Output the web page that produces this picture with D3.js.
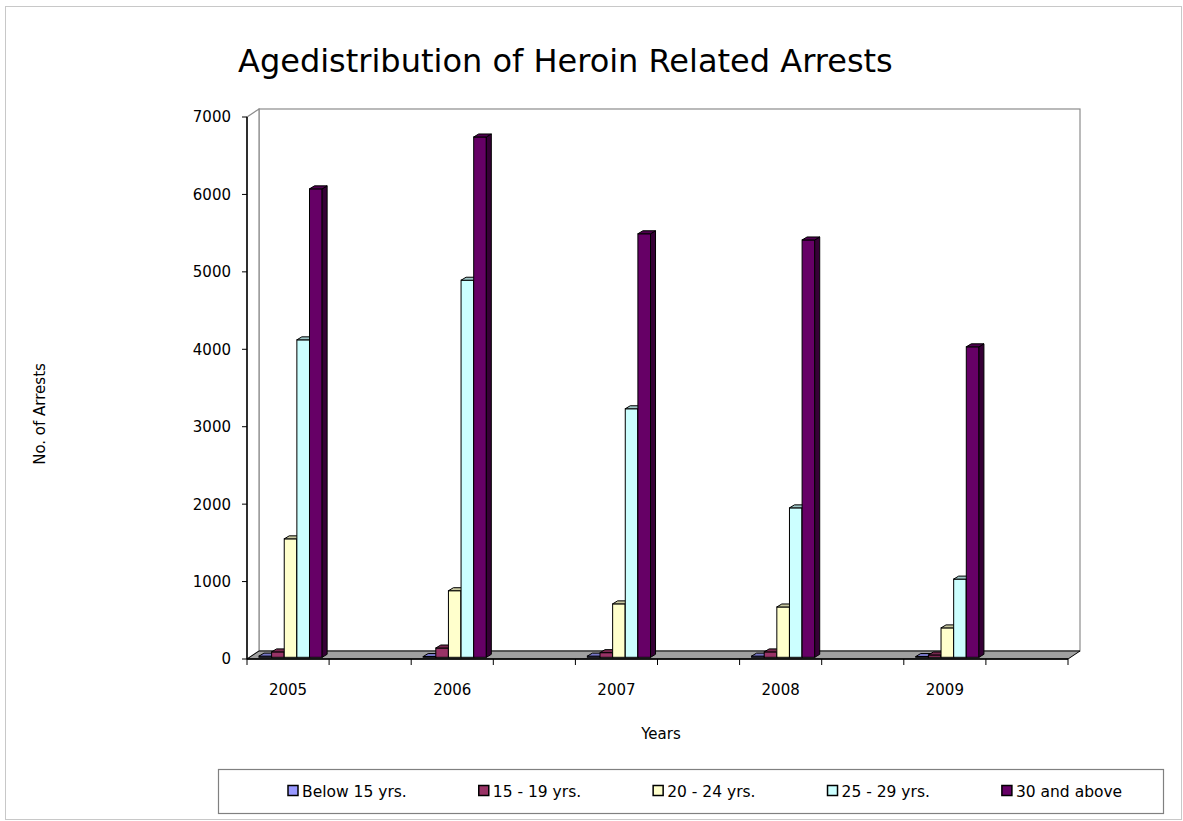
<!DOCTYPE html>
<html>
<head>
<meta charset="utf-8">
<script src="https://cdn.jsdelivr.net/npm/d3@7"></script>
<style>
  html, body { margin: 0; padding: 0; background: #fff; }
  svg { display: block; }
  text { font-family: "DejaVu Sans", Verdana, sans-serif; fill: #000; }
</style>
</head>
<body>
<svg id="chart" width="1183" height="821"></svg>
<script>
// ---- data ----
const categories = ["2005", "2006", "2007", "2008", "2009"];
const seriesNames = ["Below 15 yrs.", "15 - 19 yrs.", "20 - 24 yrs.", "25 - 29 yrs.", "30 and above"];
const below15 = [15, 10, 15, 15, 10];
const age15to19 = [70, 120, 60, 70, 30];
const age20to24 = [1530, 860, 690, 650, 380];
const age25to29 = [4100, 4870, 3210, 1930, 1010];
const age30plus = [6050, 6720, 5470, 5390, 4010];
const yTickValues = [0, 1000, 2000, 3000, 4000, 5000, 6000, 7000];
const seriesColors = ["#9999FF", "#993366", "#FFFFCC", "#CCFFFF", "#660066"];

const seriesValues = [below15, age15to19, age20to24, age25to29, age30plus];

// ---- layout ----
const svg = d3.select("#chart");
const W = 1183, H = 821;
const plot = { left: 247, right: 1068, bottom: 659, top: 117 };
const depth = { x: 12, y: -8 };          // floor / wall depth offset
const barFront = { x: 2.5, y: -1.7 };    // bar front plane offset
const barDepth = { x: 5, y: -3 };        // bar thickness offset

// each year occupies one slot followed by an empty slot
const slots = categories.flatMap(c => [c, c + "_blank"]);
const x = d3.scaleBand().domain(slots).range([plot.left, plot.right]).padding(0);
const xs = d3.scaleBand().domain(seriesNames).range([0, x.bandwidth()])
  .paddingInner(0).paddingOuter(0.75);
const y = d3.scaleLinear().domain([0, 7000]).range([plot.bottom, plot.top]);

// background + outer border
svg.append("rect").attr("x", 0).attr("y", 0).attr("width", W).attr("height", H).attr("fill", "#fff");
svg.append("rect").attr("x", 5.5).attr("y", 6.5).attr("width", W - 7).attr("height", H - 8)
  .attr("fill", "none").attr("stroke", "#c8c8c8").attr("stroke-width", 1);

// walls
const bx0 = plot.left + depth.x, by0 = plot.top + depth.y;
const bx1 = plot.right + depth.x, byB = plot.bottom + depth.y;
svg.append("rect").attr("x", bx0).attr("y", by0).attr("width", bx1 - bx0).attr("height", byB - by0)
  .attr("fill", "#fff").attr("stroke", "#8c8c8c").attr("stroke-width", 1.2);
svg.append("polygon")
  .attr("points", [[plot.left, plot.top], [bx0, by0], [bx0, byB], [plot.left, plot.bottom]].join(" "))
  .attr("fill", "#fff").attr("stroke", "#8c8c8c").attr("stroke-width", 1.2);

// floor
svg.append("polygon")
  .attr("points", [[plot.left, plot.bottom], [plot.right, plot.bottom], [bx1, byB], [bx0, byB]].join(" "))
  .attr("fill", "#a0a0a0").attr("stroke", "#000").attr("stroke-width", 1);

// bars
const barsG = svg.append("g");
categories.forEach((cat, ci) => {
  seriesNames.forEach((s, si) => {
    const v = seriesValues[si][ci];
    const col = d3.color(seriesColors[si]);
    const w = xs.bandwidth();
    const bx = x(cat) + xs(s) + barFront.x;
    const yTop = y(v) + barFront.y;
    const yBase = y(0) + barFront.y;
    const g = barsG.append("g");
    // front
    g.append("rect").attr("x", bx).attr("y", yTop).attr("width", w).attr("height", yBase - yTop)
      .attr("fill", col.formatHex()).attr("stroke", "#000").attr("stroke-width", 1);
    // side
    g.append("polygon")
      .attr("points", [[bx + w, yTop], [bx + w + barDepth.x, yTop + barDepth.y],
        [bx + w + barDepth.x, yBase + barDepth.y], [bx + w, yBase]].join(" "))
      .attr("fill", col.darker(1.8).formatHex()).attr("stroke", "#000").attr("stroke-width", 1);
    // top
    g.append("polygon")
      .attr("points", [[bx, yTop], [bx + w, yTop], [bx + w + barDepth.x, yTop + barDepth.y],
        [bx + barDepth.x, yTop + barDepth.y]].join(" "))
      .attr("fill", col.darker(0.7).formatHex()).attr("stroke", "#000").attr("stroke-width", 1);
  });
});

// y axis
svg.append("line").attr("x1", plot.left).attr("x2", plot.left).attr("y1", plot.top).attr("y2", plot.bottom)
  .attr("stroke", "#000").attr("stroke-width", 1.5);
const yAxisG = svg.append("g");
yTickValues.forEach(t => {
  yAxisG.append("line").attr("x1", plot.left - 5).attr("x2", plot.left).attr("y1", y(t)).attr("y2", y(t))
    .attr("stroke", "#000").attr("stroke-width", 1);
  yAxisG.append("text").attr("x", plot.left - 16).attr("y", y(t)).attr("dy", "0.36em")
    .attr("text-anchor", "end").style("font-size", "15px").text(t);
});

// x axis
svg.append("line").attr("x1", plot.left).attr("x2", plot.right).attr("y1", plot.bottom).attr("y2", plot.bottom)
  .attr("stroke", "#000").attr("stroke-width", 1.5);
const xTickPos = slots.map(s => x(s)).concat([plot.right]);
xTickPos.forEach(px => {
  svg.append("line").attr("x1", px).attr("x2", px).attr("y1", plot.bottom).attr("y2", plot.bottom + 6)
    .attr("stroke", "#000").attr("stroke-width", 1);
});
categories.forEach(cat => {
  svg.append("text").attr("x", x(cat) + x.bandwidth() / 2).attr("y", 690).attr("dy", "0.36em")
    .attr("text-anchor", "middle").style("font-size", "15px").text(cat);
});

// axis titles
svg.append("text").attr("x", 661).attr("y", 734).attr("dy", "0.36em").attr("text-anchor", "middle")
  .style("font-size", "15px").text("Years");
svg.append("text").attr("transform", "translate(40,414) rotate(-90)").attr("dy", "0.36em")
  .attr("text-anchor", "middle").style("font-size", "15px").text("No. of Arrests");

// title
svg.append("text").attr("x", 238).attr("y", 72).style("font-size", "32px")
  .text("Agedistribution of Heroin Related Arrests");

// legend
const lg = { x: 218, y: 769, w: 945, h: 44 };
svg.append("rect").attr("x", lg.x + 0.5).attr("y", lg.y + 0.5).attr("width", lg.w).attr("height", lg.h)
  .attr("fill", "#fff").attr("stroke", "#808080").attr("stroke-width", 1.2);
let lx = 288;
const ly = lg.y + lg.h / 2;
seriesNames.forEach((s, i) => {
  svg.append("rect").attr("x", lx).attr("y", ly - 5.5).attr("width", 10).attr("height", 10)
    .attr("fill", seriesColors[i]).attr("stroke", "#000").attr("stroke-width", 1.5);
  const t = svg.append("text").attr("x", lx + 14).attr("y", ly).attr("dy", "0.36em")
    .style("font-size", "15.5px").text(s);
  const tw = t.node().getComputedTextLength();
  lx += 14 + tw + 72;
});
</script>
</body>
</html>
